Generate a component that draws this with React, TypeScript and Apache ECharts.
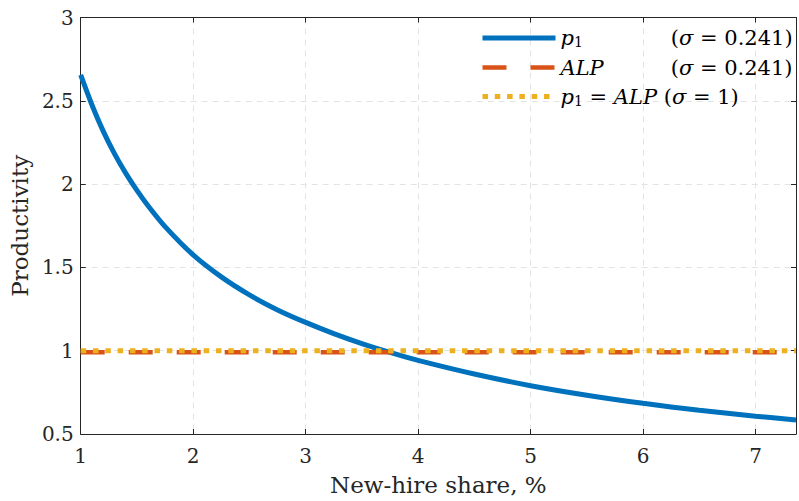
import React, { useEffect, useRef } from "react";
import * as echarts from "echarts";

const xs = [1, 1.1, 1.2, 1.3, 1.4, 1.5, 1.6, 1.75, 2, 2.25, 2.5, 2.75, 3, 3.25, 3.5, 3.75, 4, 4.5, 5, 5.5, 6, 6.5, 7, 7.36];
const p1 = [2.655, 2.475, 2.318, 2.183, 2.066, 1.962, 1.869, 1.745, 1.575, 1.443, 1.335, 1.245, 1.17, 1.103, 1.043, 0.99, 0.942, 0.86, 0.79, 0.733, 0.684, 0.642, 0.607, 0.584];
const alpX = [1, 7.36];
const alp = [0.99, 0.99];
const equalX = [1, 7.36];
const equal = [1.0, 1.0];
const xTicks = [1, 2, 3, 4, 5, 6, 7];
const yTicks = [0.5, 1, 1.5, 2, 2.5, 3];

const FONT = "'DejaVu Serif', 'Liberation Serif', serif";
const AX = "#262626";
const BLUE = "#0072BD";
const RED = "#D95319";
const YEL = "#EDB120";

export default function App() {
  const ref = useRef<HTMLDivElement>(null);
  useEffect(() => {
    const chart = echarts.init(ref.current!, null, { renderer: "svg" });
    const common = {
      axisLine: { show: true, lineStyle: { color: AX, width: 1 } },
      axisTick: { show: true, inside: true, length: 5, lineStyle: { color: AX } },
    };
    const rich = {
      i: { fontStyle: "italic", fontSize: 21, fontFamily: FONT, color: "#000", lineHeight: 22 },
      n: { fontSize: 21, fontFamily: FONT, color: "#000", lineHeight: 22 },
      s: { fontSize: 14, fontFamily: FONT, color: "#000", verticalAlign: "bottom", lineHeight: 22 },
      g1: { width: 88, fontSize: 21 },
      g2: { width: 67, fontSize: 21 },
    };
    chart.setOption({
      animation: false,
      textStyle: { fontFamily: FONT },
      grid: { left: 77, right: -1, top: 17.5, bottom: 66 },
      legend: {
        orient: "vertical",
        left: 480,
        top: 27.5,
        padding: 0,
        itemWidth: 73,
        itemHeight: 20,
        itemGap: 8,
        itemStyle: { opacity: 0 },
        data: [
          { name: "p1", itemStyle: { opacity: 0 }, lineStyle: { width: 5, color: BLUE, cap: "butt" } },
          { name: "ALP", itemStyle: { opacity: 0 }, lineStyle: { width: 4.5, color: RED, type: [24, 24], cap: "butt" } },
          { name: "eq", itemStyle: { opacity: 0 }, lineStyle: { width: 5, color: YEL, type: [5.5, 6.8], cap: "butt" } },
        ],
        formatter: (name: string) => {
          if (name === "p1") return "{i|p}{s|1}{g1| }{n|(}{i|σ}{n| = 0.241)}";
          if (name === "ALP") return "{i|ALP}{g2| }{n|(}{i|σ}{n| = 0.241)}";
          return "{i|p}{s|1}{n| = }{i|ALP}{n| (}{i|σ}{n| = 1)}";
        },
        textStyle: { color: "#000", fontFamily: FONT, fontSize: 21, rich },
      },
      xAxis: [
        {
          type: "value",
          min: 1,
          max: 7.36,
          interval: 1,
          ...common,
          axisLabel: {
            color: AX,
            fontSize: 20,
            fontFamily: FONT,
            margin: 12,
            formatter: (v: number) => (xTicks.includes(v) ? String(v) : ""),
          },
          splitLine: { show: true, lineStyle: { color: "#e3e3e3", type: [6, 5], width: 1 } },
          name: "New-hire share, %",
          nameLocation: "middle",
          nameGap: 39,
          nameTextStyle: { color: AX, fontSize: 23, fontFamily: FONT },
        },
        {
          type: "value",
          position: "top",
          min: 1,
          max: 7.36,
          interval: 1,
          ...common,
          axisLabel: { show: false },
          splitLine: { show: false },
        },
      ],
      yAxis: [
        {
          type: "value",
          min: 0.5,
          max: 3,
          interval: 0.5,
          ...common,
          axisLabel: {
            color: AX,
            fontSize: 20,
            fontFamily: FONT,
            margin: 7,
            formatter: (v: number) => (yTicks.includes(v) ? String(v) : ""),
          },
          splitLine: { show: true, lineStyle: { color: "#e3e3e3", type: [6, 5], width: 1 } },
          name: "Productivity",
          nameLocation: "middle",
          nameGap: 44,
          nameRotate: 90,
          nameTextStyle: { color: AX, fontSize: 23, fontFamily: FONT },
        },
        {
          type: "value",
          position: "right",
          min: 0.5,
          max: 3,
          interval: 0.5,
          ...common,
          axisLabel: { show: false },
          splitLine: { show: false },
        },
      ],
      series: [
        {
          name: "p1",
          type: "line",
          smooth: 0.3,
          showSymbol: false,
          symbol: "none",
          data: xs.map((x, i) => [x, p1[i]]),
          lineStyle: { color: BLUE, width: 5 },
          itemStyle: { color: BLUE },
          z: 2,
        },
        {
          name: "ALP",
          type: "line",
          showSymbol: false,
          symbol: "none",
          data: alpX.map((x, i) => [x, alp[i]]),
          lineStyle: { color: RED, width: 4.5, type: [24, 24], cap: "butt" },
          itemStyle: { color: RED },
          z: 3,
        },
        {
          name: "eq",
          type: "line",
          showSymbol: false,
          symbol: "none",
          data: equalX.map((x, i) => [x, equal[i]]),
          lineStyle: { color: YEL, width: 5, type: [5.5, 6.8], cap: "butt" },
          itemStyle: { color: YEL },
          z: 4,
        },
      ],
    });
    return () => chart.dispose();
  }, []);
  return (
    <div
      ref={ref}
      style={{ position: "fixed", left: 0, top: 0, width: 799, height: 501, background: "#fff" }}
    />
  );
}
